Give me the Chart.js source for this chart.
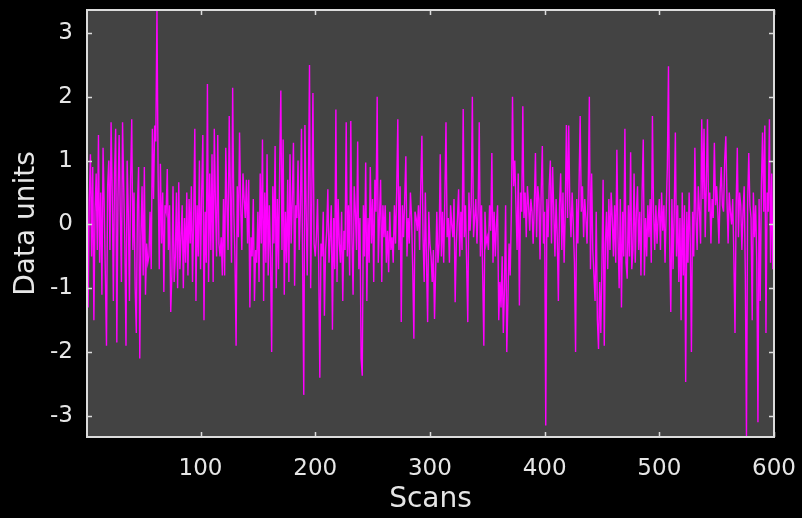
<!DOCTYPE html>
<html>
<head>
<meta charset="utf-8">
<script src="https://cdn.jsdelivr.net/npm/chart.js@4.4.1/dist/chart.umd.min.js"></script>
<style>
  html, body { margin: 0; padding: 0; background: #000; }
  #wrap { width: 802px; height: 518px; }
</style>
</head>
<body>
<div id="wrap"><canvas id="myChart" width="802" height="518"></canvas></div>
<script>
// signal values, one per scan
const signal = [
  1.3, -1.3, 0.4, 1.1, -0.5, 0.9, -1.5, 0.2, 0.8, -0.4,
  1.4, -0.6, 0.5, -1.1, 1.2, 0.3, -0.8, -1.9, 0.6, 1.0,
  -0.4, 1.6, 0.5, -1.2, 0.8, 1.5, -1.85, 0.4, 1.4, 0.2,
  -0.9, 1.6, 0.6, -0.3, -1.9, 1.0, 0.2, -1.2, 0.7, 1.65,
  -0.4, 0.5, -1.0, -1.7, 0.3, 0.9, -2.1, -0.2, 0.6, -0.8,
  0.9, -1.1, -0.3, -0.6, -0.5, 0.2, -0.7, 1.5, 0.4, 1.55,
  1.3, 3.36, 0.8, -0.7, 0.95, -0.3, 0.5, -1.06, 0.3, 0.2,
  0.87, -0.4, 0.3, -1.37, -0.8, 0.6, -0.9, -0.5, 0.5, -1.0,
  0.66, -0.7, -0.2, 0.3, -1.0, 0.1, -0.6, 0.5, -0.8, 0.4,
  -0.3, 0.6, -0.9, 0.1, 1.5, -1.2, 0.3, -0.5, 1.0, -0.7,
  0.5, 1.4, -1.5, 0.2, -0.6, 2.2, -0.9, 0.8, -0.4, 1.1,
  -0.9, 1.5, 0.3, -0.5, 1.4, -0.3, -0.5, -0.2, -0.8, 0.4,
  -0.8, 1.2, 0.3, -0.4, 1.7, 0.5, -0.6, 2.14, 0.2, -0.5,
  -1.9, 0.6, -0.2, 1.44, 0.3, -0.4, 0.8, 0.4, 0.1, 0.7,
  -0.3, 0.7, -1.3, -0.2, -0.5, 0.4, -1.2, -0.4, -0.6, 0.2,
  -0.9, 0.8, -0.3, 1.33, -1.2, 0.5, -0.6, 1.1, -0.8, 0.3,
  -0.5, -2.0, 0.6, -0.3, 1.23, -1.0, 0.4, -0.7, 0.9, 2.1,
  -0.4, 1.33, -1.1, 0.2, -0.6, 0.7, -0.9, 1.1, -0.3, 0.4,
  1.28, -0.96, 0.3, 0.1, 1.0, -0.4, 0.2, 1.5, -0.6, -2.67,
  1.56, 0.3, -0.8, 0.5, 2.5, -1.0, 0.4, 2.06, -0.3, -0.5,
  -0.2, 0.4, -0.6, -2.4, -0.3, -0.5, 0.2, -1.43, -0.4, -0.1,
  0.55, -0.6, -0.2, 0.3, -1.65, 0.1, -0.7, 1.8, -0.9, 0.4,
  -0.3, -0.6, 0.2, -1.2, -0.1, -0.4, 1.6, -0.5, 0.3, -0.8,
  1.62, -0.2, -1.1, 0.6, 0.2, -0.4, 1.3, -0.7, 0.1, -2.1,
  -2.37, 0.3, -0.5, 0.97, -1.2, 0.1, -0.6, 0.9, -0.3, 0.4,
  -0.9, 0.7, 0.2, 2.0, -0.6, 0.1, 0.7, -0.9, 0.3, -0.2,
  0.3, -0.6, -0.1, -0.75, 0.2, -0.4, -0.2, -0.6, 0.3, -0.3,
  0.5, 1.65, -0.4, 0.6, -1.53, 0.3, -0.2, 0.4, 1.07, -0.5,
  0.1, -0.3, 0.5, 0.1, -0.7, -1.79, 0.2, 0.1, -0.1, 0.3,
  -0.4, 0.6, 1.39, -0.2, -0.9, 0.5, -0.6, -1.53, 0.2, -0.3,
  -0.5, -0.9, -0.4, -1.48, -0.7, 0.2, -0.6, -0.3, 1.1, -0.5,
  0.2, -0.6, 0.4, 1.6, -0.2, 0.1, -0.6, 0.3, 0.0, -0.2,
  0.4, -1.22, -0.3, 0.1, 0.55, -0.5, 0.2, -0.4, 1.81, -0.2,
  0.3, -0.6, -1.53, 0.5, -0.1, 0.3, 2.0, -0.2, 0.1, 0.4,
  -0.3, 0.2, 1.6, -0.5, 0.3, -0.8, -1.9, 0.2, -0.3, -0.2,
  -0.4, 0.3, -0.1, 1.12, -0.6, 0.2, -0.5, 0.0, 0.3, -1.5,
  -0.9, -1.3, -0.5, -1.7, -1.0, 0.3, -2.0, -1.2, -0.3, -0.8,
  0.2, 2.0, 0.6, 1.0, 0.3, -0.4, 0.8, -1.27, 0.5, 0.2,
  1.85, 0.1, 0.5, -0.2, 0.6, 0.3, -0.1, 0.4, 0.2, -0.3,
  0.3, 1.12, -0.2, 0.6, 0.4, -0.55, 0.5, 1.23, -0.3, 0.2,
  -3.15, 0.4, -0.2, 0.6, 1.0, -0.3, 0.9, 0.2, -0.5, 0.4,
  -0.2, -1.2, 0.3, 0.8, -0.4, 0.5, -0.6, 0.2, 1.56, 0.1,
  1.55, 0.3, -0.2, 0.5, 0.0, -0.6, -2.0, 0.4, -0.3, 0.6,
  1.7, 0.2, 0.6, -0.2, 0.4, 0.1, -0.3, 0.5, 2.0, -0.7,
  0.8, -0.4, -0.8, -1.2, 0.2, -1.5, -1.95, -0.9, -1.7, -0.6,
  0.7, -1.9, -0.3, 0.2, -0.7, 0.4, -0.4, 0.5, 0.1, -0.5,
  0.3, -0.6, 1.17, -0.2, -1.0, 0.4, -1.3, 0.2, -0.5, 1.5,
  -0.6, -0.85, 0.3, -0.5, 1.13, -0.7, -0.4, 0.8, -0.6, 0.2,
  0.6, -0.4, 0.2, -0.8, 0.5, 1.33, -0.8, 0.1, -0.5, 0.3,
  -0.2, 0.4, -0.6, 1.7, 0.2, -0.4, 0.3, -0.3, 0.1, 0.4,
  -0.4, 0.5, -0.1, 0.3, -0.6, 0.2, 0.9, 2.48, -0.3, -1.37,
  0.4, -0.7, 0.2, 1.44, -0.5, 0.3, -0.9, 0.1, -1.5, 0.5,
  -0.8, 0.3, -2.47, 0.2, -0.6, 0.5, -0.3, -2.0, 0.2, -0.5,
  1.2, 0.1, -0.4, 0.6, 0.2, -0.3, 1.65, 0.4, 1.5, -0.2,
  0.6, 1.65, 0.2, 0.5, -0.3, 0.4, 0.1, 1.28, 0.3, 0.6,
  0.2, -0.3, 0.5, 0.9, 0.3, 0.2, 1.0, 1.38, 0.4, -0.3,
  0.5, 0.2, 0.0, 0.4, -0.5, -1.7, 0.3, 1.2, -0.2, 0.5,
  0.3, -0.4, 0.2, 0.6, -0.8, -3.33, 0.3, 1.12, 0.3, 0.1,
  -1.5, 0.5, -0.2, 0.3, -0.6, -3.1, 0.4, -1.2, 0.6, 1.44,
  0.2, 1.55, -1.7, 0.5, 0.2, 1.65, -0.6, 0.8, -0.7, 0.3
];
// scan numbers 1..600
const scans = signal.map((v, i) => i + 1);
const xTicks = [100, 200, 300, 400, 500, 600];
const yTicks = [-3, -2, -1, 0, 1, 2, 3];

const textColor = '#e6e6e6';
const frameColor = '#dcdcdc';

// black page, grey plot box, frame with inward tick marks
const framePlugin = {
  id: 'frame',
  beforeDraw(chart) {
    const ctx = chart.ctx;
    const a = chart.chartArea;
    ctx.save();
    ctx.fillStyle = '#000';
    ctx.fillRect(0, 0, chart.width, chart.height);
    ctx.fillStyle = '#434343';
    ctx.fillRect(a.left, a.top, a.right - a.left, a.bottom - a.top);
    ctx.restore();
  },
  afterDatasetsDraw(chart) {
    const ctx = chart.ctx;
    const a = chart.chartArea;
    const xs = chart.scales.x;
    const ys = chart.scales.y;
    ctx.save();
    ctx.strokeStyle = frameColor;
    ctx.lineWidth = 2;
    ctx.strokeRect(a.left, a.top, a.right - a.left, a.bottom - a.top);
    ctx.lineWidth = 1.5;
    ctx.beginPath();
    xTicks.forEach(t => {
      const px = Math.round(xs.getPixelForValue(t)) + 0.5;
      ctx.moveTo(px, a.bottom); ctx.lineTo(px, a.bottom - 5);
      ctx.moveTo(px, a.top); ctx.lineTo(px, a.top + 5);
    });
    yTicks.forEach(t => {
      const py = Math.round(ys.getPixelForValue(t)) + 0.5;
      ctx.moveTo(a.left, py); ctx.lineTo(a.left + 5, py);
      ctx.moveTo(a.right, py); ctx.lineTo(a.right - 5, py);
    });
    ctx.stroke();
    ctx.restore();
  }
};

const ctx = document.getElementById('myChart').getContext('2d');
const myChart = new Chart(ctx, {
  type: 'line',
  data: {
    datasets: [{
      data: scans.map((s, i) => ({ x: s, y: signal[i] })),
      borderColor: '#ff00ff',
      borderWidth: 1.4,
      pointRadius: 0,
      tension: 0
    }]
  },
  options: {
    responsive: false,
    animation: false,
    layout: { padding: { top: 10, right: 28, left: 0, bottom: 0 } },
    plugins: {
      legend: { display: false },
      tooltip: { enabled: false }
    },
    scales: {
      x: {
        type: 'linear',
        min: 1,
        max: 600,
        afterFit: s => { s.height = 81; s.paddingLeft = 0; s.paddingRight = 0; },
        afterBuildTicks: s => { s.ticks = xTicks.map(v => ({ value: v })); },
        grid: { display: false, drawTicks: false },
        border: { display: false },
        ticks: {
          color: textColor,
          padding: 18,
          maxRotation: 0,
          font: { family: 'DejaVu Sans', size: 23 }
        },
        title: {
          display: true,
          text: 'Scans',
          color: textColor,
          padding: { top: 0, bottom: 1 },
          font: { family: 'DejaVu Sans', size: 28 }
        }
      },
      y: {
        min: -3.33,
        max: 3.36,
        afterFit: s => { s.width = 87; s.paddingTop = 0; s.paddingBottom = 0; },
        afterBuildTicks: s => { s.ticks = yTicks.map(v => ({ value: v })); },
        grid: { display: false, drawTicks: false },
        border: { display: false },
        ticks: {
          color: textColor,
          padding: 14,
          font: { family: 'DejaVu Sans', size: 23 }
        },
        title: {
          display: true,
          text: 'Data units',
          color: textColor,
          padding: { top: 10, bottom: 0 },
          font: { family: 'DejaVu Sans', size: 28 }
        }
      }
    }
  },
  plugins: [framePlugin]
});
</script>
</body>
</html>
